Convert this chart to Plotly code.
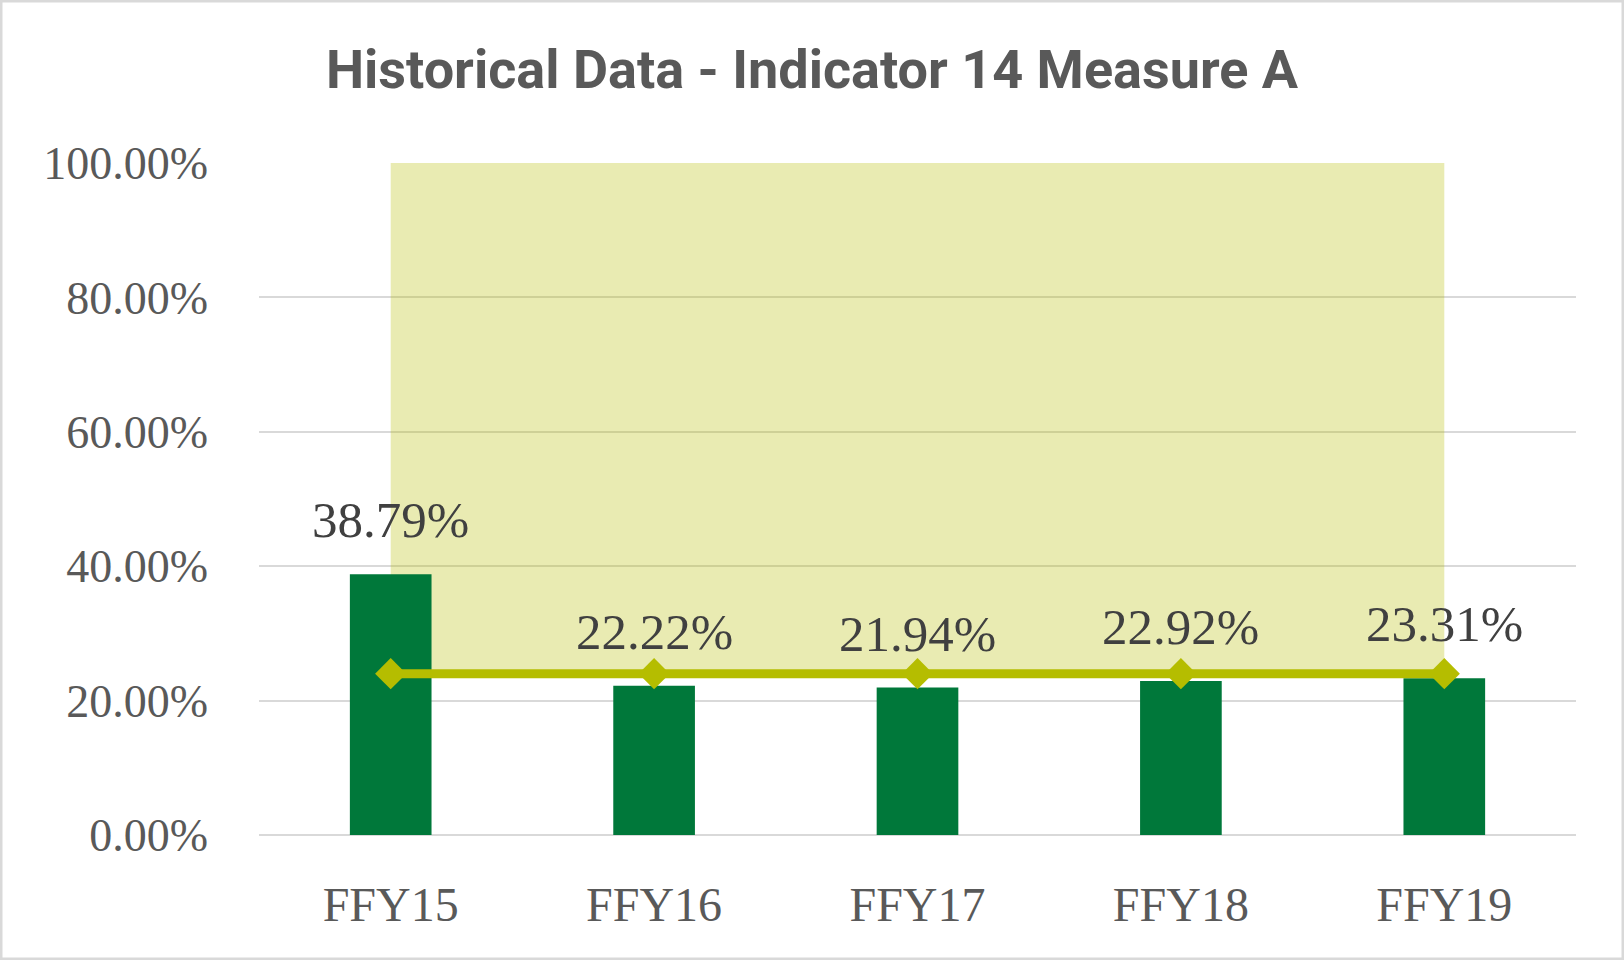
import plotly.graph_objects as go

# data
years = ['FFY15', 'FFY16', 'FFY17', 'FFY18', 'FFY19']
rates = [0.3879, 0.2222, 0.2194, 0.2292, 0.2331]
baseline = [0.24, 0.24, 0.24, 0.24, 0.24]
target_top = 1.0

W, H = 1624, 960
ml, mr, mt, mb = 259, 48, 163, 125
pw, ph = W - ml - mr, H - mt - mb

serif = 'Liberation Serif, DejaVu Serif, serif'

fig = go.Figure()

fig.add_trace(go.Bar(
	x=years,
	y=rates,
	width=0.31,
	marker=dict(color='#00783A', line=dict(width=0)),
	name='Rate',
	hoverinfo='x+y',
))

fig.add_trace(go.Scatter(
	x=years,
	y=baseline,
	mode='lines+markers',
	line=dict(color='#B5BD00', width=9),
	marker=dict(symbol='diamond', size=24, color='#B5BD00'),
	name='Baseline',
))

fig.update_layout(
	width=W,
	height=H,
	margin=dict(l=ml, r=mr, t=mt, b=mb),
	paper_bgcolor='white',
	plot_bgcolor='white',
	showlegend=False,
	title=dict(
		text='<b>Historical Data - Indicator 14 Measure A</b>',
		x=0.5,
		xref='container',
		xanchor='center',
		y=1 - 69 / H,
		yanchor='middle',
		font=dict(family='Roboto, sans-serif', size=54, color='#595959'),
	),
	xaxis=dict(
		type='category',
		range=[-0.5, len(years) - 0.5],
		showgrid=False,
		showline=False,
		zeroline=False,
		ticks='',
		ticklabelstandoff=37,
		tickfont=dict(family=serif, size=48, color='#595959'),
	),
	yaxis=dict(
		range=[0, 1.0],
		dtick=0.2,
		tickformat='.2%',
		showgrid=True,
		gridcolor='#D9D9D9',
		gridwidth=2,
		zeroline=True,
		zerolinecolor='#D9D9D9',
		zerolinewidth=2,
		showline=False,
		ticks='',
		ticklabelstandoff=50,
		tickfont=dict(family=serif, size=46, color='#595959'),
	),
	shapes=[
		# target band behind the bars, gridlines show through it
		dict(
			type='rect', layer='between',
			xref='x', yref='y',
			x0=years[0], x1=years[-1],
			y0=baseline[0], y1=target_top,
			fillcolor='rgba(181,189,0,0.3)', line=dict(width=0),
		),
		# outer border of the chart
		dict(
			type='rect', layer='above',
			xref='paper', yref='paper',
			x0=-(ml - 1) / pw, x1=1 + (mr - 1) / pw,
			y0=-(mb - 1) / ph, y1=1 + (mt - 1) / ph,
			line=dict(color='#D9D9D9', width=3),
		),
	],
	annotations=[
		dict(
			x=yr, y=v, xref='x', yref='y',
			text=f'{v * 100:.2f}%',
			showarrow=False,
			yanchor='bottom',
			yshift=24,
			font=dict(family=serif, size=51, color='#404040'),
		)
		for yr, v in zip(years, rates)
	],
)

fig.write_html('out.html', config={'displayModeBar': False},
			   post_script="document.body.style.margin='0px';")
